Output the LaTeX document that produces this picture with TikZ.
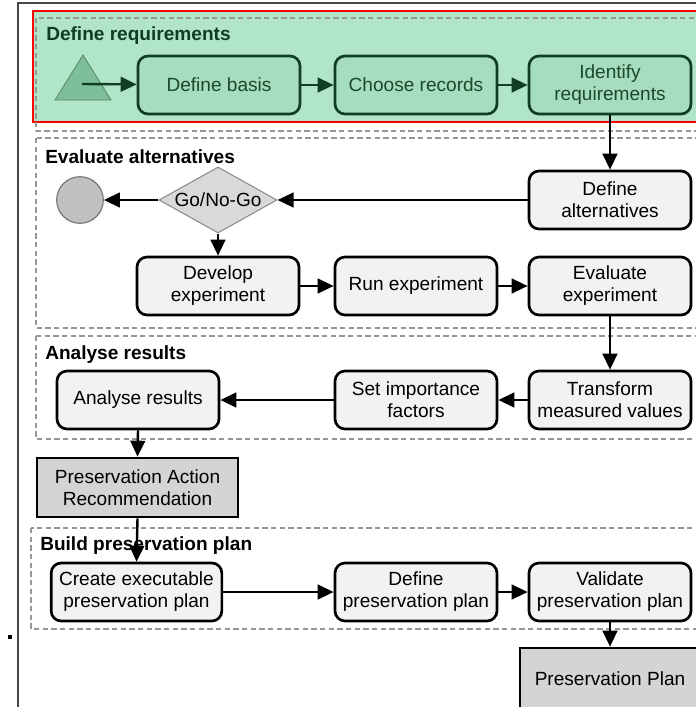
\documentclass[tikz,border=0pt]{standalone}
\usepackage{fontspec}
\setmainfont{Liberation Sans}
\usetikzlibrary{shapes.geometric,arrows.meta}

\newcommand{\boxfont}{\fontsize{14.3pt}{16.5pt}\selectfont}

\tikzset{
  stepbox/.style={draw=black, line width=2pt, rounded corners=7.5pt, fill=stepfill,
    minimum width=121.5pt, minimum height=43.5pt, inner sep=0pt, align=center, font=\boxfont},
  greenbox/.style={stepbox, draw=reqdark, fill=reqbox, text=reqtext},
  resultbox/.style={draw=black, line width=2pt, fill=resultfill,
    minimum height=44.25pt, inner sep=0pt, align=center, font=\boxfont},
  decision/.style={diamond, draw=decline, line width=0.8pt, fill=decfill,
    minimum width=88.5pt, minimum height=49.5pt, inner sep=0pt},
  stopcirc/.style={circle, draw=stopline, line width=0.8pt, fill=stopfill,
    minimum size=35pt, inner sep=0pt},
  phase/.style={draw=phaseline, line width=0.8pt, dash pattern=on 4pt off 2.5pt},
  phaselabel/.style={anchor=west, inner sep=0pt, font=\boxfont\bfseries},
  flow/.style={line width=1.8pt, -{Triangle[length=12pt,width=11pt]}},
  greenflow/.style={flow, draw=reqdark, -{Triangle[length=12pt,width=11pt,fill=reqdark]}}
}

\begin{document}
\begin{tikzpicture}[x=0.75pt,y=-0.75pt]

        % Define colors
        \definecolor{reqregion}{RGB}{176,229,200} % green phase fill
        \definecolor{reqbox}{RGB}{166,221,190}    % green step fill
        \definecolor{reqdark}{RGB}{16,62,34}      % green step border
        \definecolor{reqtext}{RGB}{28,72,44}      % green step text
        \definecolor{trifill}{RGB}{126,190,152}   % start triangle
        \definecolor{stepfill}{RGB}{242,242,242}
        \definecolor{resultfill}{RGB}{212,212,212}
        \definecolor{decfill}{RGB}{217,217,217}
        \definecolor{decline}{RGB}{140,140,140}
        \definecolor{stopfill}{RGB}{192,192,192}
        \definecolor{stopline}{RGB}{110,110,110}
        \definecolor{phaseline}{RGB}{150,150,150}
        \definecolor{framegray}{RGB}{70,70,70}

        % Fix the picture size
        \useasboundingbox (0,0) rectangle (696,707);
        \clip (0,0) rectangle (696,707);

        % Draw outer frame
        \draw[framegray, line width=1.1pt] (18,720) -- (18,3) -- (720,3);
        \fill (8,635) rectangle (12,639);

        % Draw phase boxes
        \filldraw[draw=red, line width=1.5pt, fill=reqregion] (33,11) rectangle (720,122);
        \draw[phase] (36,18) rectangle (720,131);
        \draw[phase] (36,138) rectangle (720,328);
        \draw[phase] (36,336) rectangle (720,439);
        \draw[phase] (31,528) rectangle (720,629);

        % Phase labels
        \node[phaselabel, text=reqdark] (lblreq) at (46,36) {Define requirements};
        \node[phaselabel] (lbleval) at (45,157) {Evaluate alternatives};
        \node[phaselabel] (lblanalyse) at (45,355) {Analyse results};
        \node[phaselabel] (lblbuild) at (40,546) {Build preservation plan};

        % Start triangle
        \filldraw[fill=trifill, draw=trifill!70!black, line width=0.6pt] (55,100) -- (83,55) -- (111,100) -- cycle;
        \coordinate (start) at (82,84);

        % Define requirements
        \node[greenbox] (basis) at (219,85) {Define basis};
        \node[greenbox] (records) at (416,85) {Choose records};
        \node[greenbox] (identify) at (610,85) {Identify\\requirements};

        % Evaluate alternatives
        \node[stopcirc] (stop) at (80,200) {};
        \node[decision, label={[font=\boxfont]center:Go/No-Go}] (gonogo) at (218,200) {};
        \node[stepbox] (defalt) at (610,200) {Define\\alternatives};
        \node[stepbox] (develop) at (218,286) {Develop\\experiment};
        \node[stepbox] (run) at (416,286) {Run experiment};
        \node[stepbox] (evalexp) at (610,286) {Evaluate\\experiment};

        % Analyse results
        \node[stepbox] (analyse) at (138,400) {Analyse results};
        \node[stepbox] (setimp) at (416,400) {Set importance\\factors};
        \node[stepbox] (transform) at (610,400) {Transform\\measured values};
        \node[resultbox, minimum width=150.75pt] (par) at (137.5,487.5) {Preservation Action\\Recommendation};

        % Build preservation plan
        \node[stepbox, minimum width=128pt] (create) at (136.5,592) {Create executable\\preservation plan};
        \node[stepbox] (defplan) at (416,592) {Define\\preservation plan};
        \node[stepbox] (validate) at (610,592) {Validate\\preservation plan};
        \node[resultbox, minimum width=135pt, minimum height=46.5pt] (pplan) at (610,679) {Preservation Plan};

        % Connectors
        \draw[greenflow] (start) -- (basis);
        \draw[greenflow] (basis) -- (records);
        \draw[greenflow] (records) -- (identify);
        \draw[flow] (identify) -- (defalt);
        \draw[flow] (defalt) -- (gonogo);
        \draw[flow] (gonogo) -- (stop);
        \draw[flow] (gonogo) -- (develop);
        \draw[flow] (develop) -- (run);
        \draw[flow] (run) -- (evalexp);
        \draw[flow] (evalexp) -- (transform);
        \draw[flow] (transform) -- (setimp);
        \draw[flow] (setimp) -- (analyse);
        \draw[flow] (analyse.south) -- (par.north);
        \draw[flow] (par.south) -- (create.north);
        \draw[flow] (create) -- (defplan);
        \draw[flow] (defplan) -- (validate);
        \draw[flow] (validate) -- (pplan);
        \end{tikzpicture}
\end{document}
